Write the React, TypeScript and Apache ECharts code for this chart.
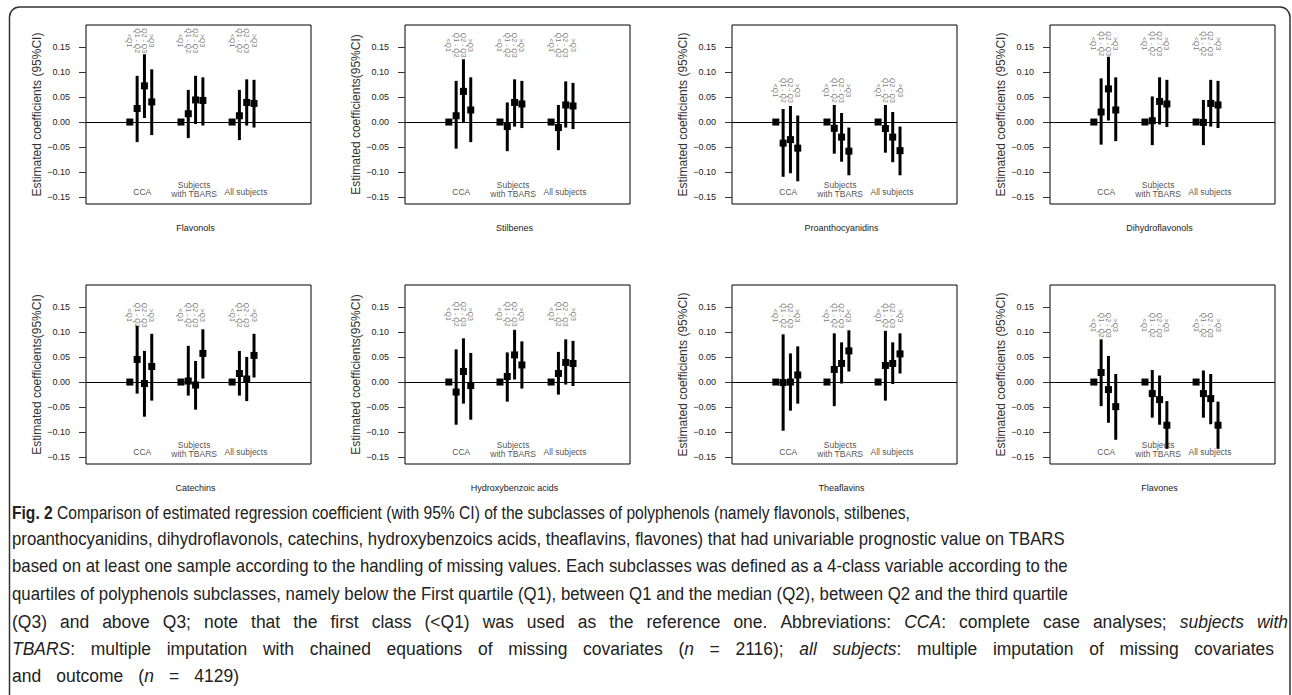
import React, { useEffect, useRef } from 'react';
import * as echarts from 'echarts';

// ---------- data ----------
const panelTitles = ['Flavonols', 'Stilbenes', 'Proanthocyanidins', 'Dihydroflavonols', 'Catechins', 'Hydroxybenzoic acids', 'Theaflavins', 'Flavones'];
const yAxisNames = [
  'Estimated coefficients (95%CI)', 'Estimated coefficients(95%CI)', 'Estimated coefficients (95%CI)', 'Estimated coefficients (95%CI)',
  'Estimated coefficients(95%CI)', 'Estimated coefficients(95%CI)', 'Estimated coefficients (95%CI)', 'Estimated coefficients (95%CI)',
];
const yTicks = [-0.15, -0.1, -0.05, 0, 0.05, 0.1, 0.15];
const groupLabels = ['CCA', 'Subjects\nwith TBARS', 'All subjects'];
const groupLabelX = [2.7, 9.8, 16.9];
const groupLabelY = [-0.14, -0.135, -0.14];
const quartileLabels = ['<Q1', 'Q1 - Q2', 'Q2 - Q3', '>Q3'];
const xPositions = [1, 2, 3, 4, 8, 9, 10, 11, 15, 16, 17, 18];
const quartileLabelY = [0.162, 0.153, 0.063, 0.156, 0.133, 0.135, 0.132, 0.113];

const flavonolsEst = [0, 0.027, 0.072, 0.040, 0, 0.0165, 0.044, 0.043, 0, 0.0125, 0.039, 0.037];
const flavonolsLo = [0, -0.040, 0.008, -0.026, 0, -0.032, -0.004, -0.007, 0, -0.036, -0.007, -0.011];
const flavonolsHi = [0, 0.092, 0.135, 0.105, 0, 0.064, 0.092, 0.089, 0, 0.064, 0.085, 0.084];

const stilbenesEst = [0, 0.0125, 0.061, 0.024, 0, -0.009, 0.039, 0.036, 0, -0.011, 0.034, 0.032];
const stilbenesLo = [0, -0.053, -0.002, -0.040, 0, -0.058, -0.009, -0.012, 0, -0.056, -0.011, -0.014];
const stilbenesHi = [0, 0.082, 0.125, 0.089, 0, 0.039, 0.085, 0.082, 0, 0.034, 0.081, 0.078];

const proanthoEst = [0, -0.042, -0.035, -0.052, 0, -0.0125, -0.030, -0.058, 0, -0.013, -0.030, -0.057];
const proanthoLo = [0, -0.109, -0.102, -0.118, 0, -0.063, -0.079, -0.106, 0, -0.061, -0.080, -0.106];
const proanthoHi = [0, 0.026, 0.032, 0.013, 0, 0.034, 0.018, -0.011, 0, 0.034, 0.020, -0.009];

const dihydroEst = [0, 0.020, 0.066, 0.024, 0, 0.0026, 0.041, 0.036, 0, -0.0007, 0.037, 0.034];
const dihydroLo = [0, -0.045, 0.003, -0.038, 0, -0.046, -0.005, -0.010, 0, -0.046, -0.009, -0.012];
const dihydroHi = [0, 0.087, 0.130, 0.089, 0, 0.051, 0.089, 0.084, 0, 0.044, 0.084, 0.082];

const catechinsEst = [0, 0.045, -0.003, 0.031, 0, 0.002, -0.006, 0.057, 0, 0.017, 0.006, 0.053];
const catechinsLo = [0, -0.023, -0.069, -0.037, 0, -0.027, -0.055, 0.007, 0, -0.027, -0.038, 0.009];
const catechinsHi = [0, 0.112, 0.062, 0.096, 0, 0.072, 0.042, 0.105, 0, 0.062, 0.050, 0.096];

const hydroxyEst = [0, -0.020, 0.021, -0.007, 0, 0.011, 0.054, 0.034, 0, 0.017, 0.039, 0.037];
const hydroxyLo = [0, -0.085, -0.043, -0.075, 0, -0.039, 0.005, -0.013, 0, -0.025, -0.005, -0.008];
const hydroxyHi = [0, 0.065, 0.087, 0.058, 0, 0.059, 0.104, 0.081, 0, 0.060, 0.085, 0.082];

const theaflavinsEst = [0, -0.001, 0.000, 0.014, 0, 0.025, 0.037, 0.062, 0, 0.033, 0.037, 0.056];
const theaflavinsLo = [0, -0.097, -0.057, -0.043, 0, -0.048, -0.003, 0.021, 0, -0.037, -0.004, 0.017];
const theaflavinsHi = [0, 0.095, 0.057, 0.071, 0, 0.097, 0.079, 0.103, 0, 0.102, 0.079, 0.097];

const flavonesEst = [0, 0.019, -0.015, -0.049, 0, -0.023, -0.035, -0.086, 0, -0.023, -0.033, -0.086];
const flavonesLo = [0, -0.048, -0.081, -0.115, 0, -0.071, -0.085, -0.133, 0, -0.071, -0.084, -0.133];
const flavonesHi = [0, 0.085, 0.052, 0.016, 0, 0.024, 0.013, -0.038, 0, 0.023, 0.016, -0.039];

const estimates = [flavonolsEst, stilbenesEst, proanthoEst, dihydroEst, catechinsEst, hydroxyEst, theaflavinsEst, flavonesEst];
const lowers = [flavonolsLo, stilbenesLo, proanthoLo, dihydroLo, catechinsLo, hydroxyLo, theaflavinsLo, flavonesLo];
const uppers = [flavonolsHi, stilbenesHi, proanthoHi, dihydroHi, catechinsHi, hydroxyHi, theaflavinsHi, flavonesHi];

// caption: segments of [style, text]; n = normal, b = bold, i = italic
const captionLines: [string, string][][] = [
  [['b', 'Fig. 2'], ['n', ' Comparison of estimated regression coefficient (with 95% CI) of the subclasses of polyphenols (namely flavonols, stilbenes,']],
  [['n', 'proanthocyanidins, dihydroflavonols, catechins, hydroxybenzoics acids, theaflavins, flavones) that had univariable prognostic value on TBARS']],
  [['n', 'based on at least one sample according to the handling of missing values. Each subclasses was defined as a 4-class variable according to the']],
  [['n', 'quartiles of polyphenols subclasses, namely below the First quartile (Q1), between Q1 and the median (Q2), between Q2 and the third quartile']],
  [['n', '(Q3) and above Q3; note that the first class (<Q1) was used as the reference one. Abbreviations: '], ['i', 'CCA'], ['n', ': complete case analyses; '], ['i', 'subjects with']],
  [['i', 'TBARS'], ['n', ': multiple imputation with chained equations of missing covariates ('], ['i', 'n'], ['n', ' = 2116); '], ['i', 'all subjects'], ['n', ': multiple imputation of missing covariates']],
  [['n', 'and outcome ('], ['i', 'n'], ['n', ' = 4129)']],
];
const captionLineEnds = [910, 1065, 1068, 1068, 1288, 1274, 239];

// ---------- layout ----------
const FONT = '"Liberation Sans", Arial, sans-serif';
const CAP_FAMILY = '"Liberation Sans"';
const CAP_SIZE = 19;
const CAP_X = 12;
const capY = [512, 539, 566, 594, 621, 648, 675];
const gridLefts = [86, 405, 732, 1050];
const gridTops = [25, 285];
const gridW = 225;
const gridH = 179;
const X_MIN = -5;
const X_MAX = 25.8;
const Y_MIN = -0.1632;
const Y_MAX = 0.1932;
const TICK_LEN = 7;

function buildCaption(graphic: any[]) {
  const canvas = document.createElement('canvas');
  const ctx = canvas.getContext('2d')!;
  const fontFor = (s: string) => `${s === 'i' ? 'italic ' : ''}${s === 'b' ? 'bold ' : ''}${CAP_SIZE}px ${CAP_FAMILY}`;
  const measure = (s: string, t: string) => { ctx.font = fontFor(s); return ctx.measureText(t).width; };
  const spaceW = measure('n', ' ');

  captionLines.forEach((segs, li) => {
    const words: [string, string][][] = [];
    let cur: [string, string][] = [];
    segs.forEach(([s, t]) => {
      const parts = t.split(' ');
      parts.forEach((p, pi) => {
        if (pi > 0) { if (cur.length) words.push(cur); cur = []; }
        if (p.length) cur.push([s, p]);
      });
    });
    if (cur.length) words.push(cur);
    const wordW = words.map(w => w.reduce((acc, [s, t]) => acc + measure(s, t), 0));
    const total = wordW.reduce((a, b) => a + b, 0);
    const natural = total + spaceW * (words.length - 1);
    const target = captionLineEnds[li] - CAP_X;
    const scale = Math.min(0.92, Math.max(0.8, target / natural));
    const targetLocal = target / scale;
    const gap = words.length > 1 ? Math.max(2, (targetLocal - total) / (words.length - 1)) : 0;
    const text = words.map(w => w.map(([s, t]) => (s === 'n' ? t : `{${s}|${t}}`)).join('')).join('{s| }');
    graphic.push({
      type: 'text', id: `cap${li}`, x: CAP_X, y: capY[li], scaleX: scale, silent: true,
      style: {
        text, fontSize: CAP_SIZE, fontFamily: CAP_FAMILY, fill: '#222', align: 'left', verticalAlign: 'middle',
        rich: {
          b: { fontSize: CAP_SIZE, fontFamily: CAP_FAMILY, fontWeight: 'bold', fill: '#222' },
          i: { fontSize: CAP_SIZE, fontFamily: CAP_FAMILY, fontStyle: 'italic', fill: '#222' },
          s: { fontSize: CAP_SIZE, fontFamily: CAP_FAMILY, fill: '#222', width: gap },
        },
      },
    });
  });
}

function buildOption() {
  const grid: any[] = [];
  const xAxis: any[] = [];
  const yAxis: any[] = [];
  const series: any[] = [];
  const graphic: any[] = [];

  for (let i = 0; i < 8; i++) {
    const col = i % 4;
    const row = Math.floor(i / 4);
    const left = gridLefts[col];
    const top = gridTops[row];
    grid.push({ left, top, width: gridW, height: gridH, show: true, borderColor: '#000', borderWidth: 1, backgroundColor: 'transparent', containLabel: false });
    xAxis.push({ type: 'value', gridIndex: i, min: X_MIN, max: X_MAX, show: false, axisLine: { onZero: false } });
    yAxis.push({
      type: 'value', gridIndex: i, min: Y_MIN, max: Y_MAX, position: 'left',
      name: yAxisNames[i], nameLocation: 'middle', nameGap: 40,
      nameTextStyle: { fontSize: 12, color: '#333', fontFamily: FONT },
      axisLine: { show: false, onZero: false },
      splitLine: { show: false },
      axisTick: { show: false },
      axisLabel: {
        show: true, customValues: yTicks, margin: 16, fontSize: 9, color: '#222', fontFamily: FONT,
        formatter: (v: number) => v.toFixed(2).replace('-', '\u2212'),
      },
    });

    const est = estimates[i];
    const lo = lowers[i];
    const hi = uppers[i];

    series.push({
      type: 'custom', xAxisIndex: i, yAxisIndex: i, silent: true,
      data: xPositions.map((x, k) => [x, lo[k], hi[k]]),
      encode: { x: 0, y: [1, 2] },
      renderItem: (params: any, api: any) => {
        const a = api.value(1);
        const b = api.value(2);
        if (a === b) return null;
        const p1 = api.coord([api.value(0), a]);
        const p2 = api.coord([api.value(0), b]);
        return { type: 'line', shape: { x1: p1[0], y1: p1[1], x2: p2[0], y2: p2[1] }, style: { stroke: '#000', lineWidth: 3 } };
      },
    });

    series.push({
      type: 'scatter', xAxisIndex: i, yAxisIndex: i, silent: true,
      symbol: 'rect', symbolSize: 7, itemStyle: { color: '#000', opacity: 1 },
      data: xPositions.map((x, k) => [x, est[k]]),
      markLine: {
        silent: true, symbol: 'none', label: { show: false },
        lineStyle: { color: '#000', width: 1, type: 'solid' },
        data: [{ yAxis: 0 }],
      },
      z: 3,
    });

    const qData: any[] = [];
    for (let k = 0; k < 12; k++) {
      qData.push({ value: [xPositions[k], quartileLabelY[i]], name: quartileLabels[k % 4] });
    }
    series.push({
      type: 'scatter', xAxisIndex: i, yAxisIndex: i, silent: true,
      symbolSize: 1, itemStyle: { color: 'rgba(0,0,0,0)' },
      data: qData,
      label: { show: true, position: 'inside', rotate: -90, formatter: '{b}', fontSize: 7, color: '#555', fontFamily: FONT },
      z: 4,
    });

    series.push({
      type: 'scatter', xAxisIndex: i, yAxisIndex: i, silent: true,
      symbolSize: 1, itemStyle: { color: 'rgba(0,0,0,0)' },
      data: groupLabels.map((g, k) => ({ value: [groupLabelX[k], groupLabelY[k]], name: g })),
      label: { show: true, position: 'inside', formatter: '{b}', fontSize: 8.5, lineHeight: 9, color: '#222', fontFamily: FONT },
      z: 4,
    });

    graphic.push({
      type: 'text', id: `title${i}`, x: left + gridW / 2 - 3, y: top + gridH + 24,
      style: { text: panelTitles[i], fontSize: 9, fill: '#222', fontFamily: FONT, align: 'center', verticalAlign: 'middle' },
      silent: true,
    });
  }

  graphic.push({
    type: 'rect', id: 'card', shape: { x: 9.5, y: 7, width: 1280.5, height: 700, r: 10 },
    style: { fill: 'none', stroke: '#333', lineWidth: 1.5 }, silent: true,
  });

  buildCaption(graphic);

  return { animation: false, backgroundColor: '#fff', grid, xAxis, yAxis, series, graphic };
}

// y-axis tick marks, positioned through each axis' own scale
function buildTicks(chart: any) {
  const ticks: any[] = [];
  for (let i = 0; i < 8; i++) {
    const x0 = chart.convertToPixel({ xAxisIndex: i }, X_MIN);
    yTicks.forEach((v, k) => {
      const py = Math.round(chart.convertToPixel({ yAxisIndex: i }, v)) + 0.5;
      ticks.push({
        type: 'line', id: `tick${i}_${k}`, silent: true, z: 10,
        shape: { x1: x0 - TICK_LEN, y1: py, x2: x0, y2: py },
        style: { stroke: '#333', lineWidth: 1 },
      });
    });
  }
  return ticks;
}

export default function App() {
  const ref = useRef<HTMLDivElement>(null);
  useEffect(() => {
    document.body.style.margin = '0';
    const chart = echarts.init(ref.current!, undefined, { renderer: 'svg' });
    const option = buildOption();
    chart.setOption(option as any);
    chart.setOption({ graphic: [...option.graphic, ...buildTicks(chart)] } as any);
    return () => chart.dispose();
  }, []);
  return <div ref={ref} style={{ position: 'absolute', left: 0, top: 0, width: 1292, height: 695 }} />;
}
